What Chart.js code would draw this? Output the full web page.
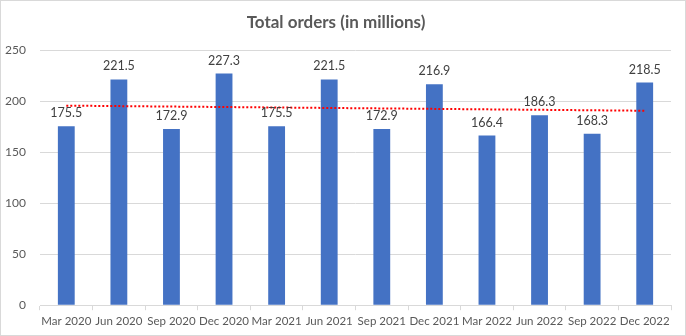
<!DOCTYPE html>
<html>
<head>
<meta charset="utf-8">
<script src="https://cdn.jsdelivr.net/npm/chart.js@4"></script>
<style>
  html, body { margin: 0; padding: 0; background: #ffffff; }
  #wrap { position: relative; width: 684px; height: 334px; border: 1px solid #d9d9d9; }
</style>
</head>
<body>
<div id="wrap"><canvas id="chart"></canvas></div>
<script>
const quarters = ["Mar 2020", "Jun 2020", "Sep 2020", "Dec 2020", "Mar 2021", "Jun 2021",
                  "Sep 2021", "Dec 2021", "Mar 2022", "Jun 2022", "Sep 2022", "Dec 2022"];
const orders = [175.5, 221.5, 172.9, 227.3, 175.5, 221.5, 172.9, 216.9, 166.4, 186.3, 168.3, 218.5];
// trendline end points (first and last quarter)
const trend = [195.8, null, null, null, null, null, null, null, null, null, null, 190.8];
const yTicks = [0, 50, 100, 150, 200, 250];

const font = "Lato, 'DejaVu Sans', sans-serif";

const barLabels = {
    id: "barLabels",
    afterDatasetsDraw(chart) {
        const ctx = chart.ctx;
        const meta = chart.getDatasetMeta(0);
        ctx.save();
        ctx.font = "12.5px " + font;
        ctx.fillStyle = "#404040";
        ctx.textAlign = "center";
        ctx.textBaseline = "middle";
        meta.data.forEach((bar, i) => {
            ctx.fillText(orders[i].toFixed(1), bar.x, bar.y - 13);
        });
        ctx.restore();
    }
};

new Chart(document.getElementById("chart"), {
    data: {
        labels: quarters,
        datasets: [{
            type: "bar",
            label: "Total orders",
            data: orders,
            backgroundColor: "#4472c4",
            barPercentage: 0.32,
            categoryPercentage: 1,
            order: 1
        }, {
            type: "line",
            label: "Trend",
            data: trend,
            spanGaps: true,
            borderColor: "#ff0000",
            borderWidth: 2,
            borderDash: [2, 2],
            pointRadius: 0,
            fill: false,
            order: 0
        }]
    },
    options: {
        responsive: true,
        maintainAspectRatio: false,
        animation: false,
        layout: { padding: { left: 0, right: 14, top: 6, bottom: 3 } },
        plugins: {
            legend: { display: false },
            tooltip: { enabled: false },
            title: {
                display: true,
                text: "Total orders (in millions)",
                color: "#595959",
                font: { family: font, size: 17, weight: "bold" },
                padding: { top: 5, bottom: 18 }
            }
        },
        scales: {
            x: {
                offset: true,
                grid: {
                    offset: true,
                    drawOnChartArea: false,
                    drawTicks: true,
                    tickLength: 5,
                    color: "#d9d9d9"
                },
                border: { color: "#d9d9d9" },
                ticks: {
                    color: "#595959",
                    font: { family: font, size: 11.5 },
                    maxRotation: 0,
                    autoSkip: false,
                    padding: 4
                }
            },
            y: {
                min: 0,
                max: 250,
                afterFit(scale) { scale.width = 39; },
                afterBuildTicks(scale) { scale.ticks = yTicks.map(v => ({ value: v })); },
                grid: { color: "#d9d9d9", drawTicks: false },
                border: { display: false },
                ticks: {
                    color: "#595959",
                    font: { family: font, size: 12 },
                    padding: 14
                }
            }
        }
    },
    plugins: [barLabels]
});
</script>
</body>
</html>
